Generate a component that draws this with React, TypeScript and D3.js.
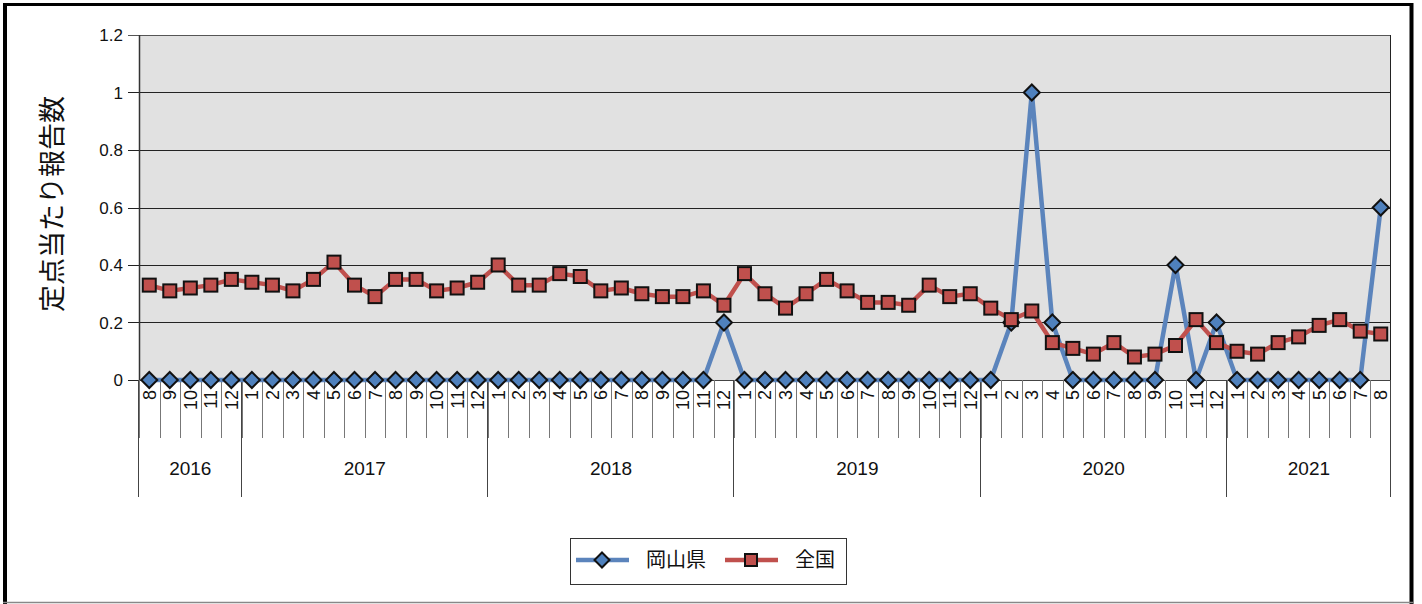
import * as d3 from "d3";

const years = ["2016", "2017", "2018", "2019", "2020", "2021"];
const monthsByYear = [
  [8, 9, 10, 11, 12],
  [1, 2, 3, 4, 5, 6, 7, 8, 9, 10, 11, 12],
  [1, 2, 3, 4, 5, 6, 7, 8, 9, 10, 11, 12],
  [1, 2, 3, 4, 5, 6, 7, 8, 9, 10, 11, 12],
  [1, 2, 3, 4, 5, 6, 7, 8, 9, 10, 11, 12],
  [1, 2, 3, 4, 5, 6, 7, 8],
];

// 岡山県
const okayama = [
  0, 0, 0, 0, 0,
  0, 0, 0, 0, 0, 0, 0, 0, 0, 0, 0, 0,
  0, 0, 0, 0, 0, 0, 0, 0, 0, 0, 0, 0.2,
  0, 0, 0, 0, 0, 0, 0, 0, 0, 0, 0, 0,
  0, 0.2, 1.0, 0.2, 0, 0, 0, 0, 0, 0.4, 0, 0.2,
  0, 0, 0, 0, 0, 0, 0, 0.6,
];

// 全国
const national = [
  0.33, 0.31, 0.32, 0.33, 0.35,
  0.34, 0.33, 0.31, 0.35, 0.41, 0.33, 0.29, 0.35, 0.35, 0.31, 0.32, 0.34,
  0.40, 0.33, 0.33, 0.37, 0.36, 0.31, 0.32, 0.30, 0.29, 0.29, 0.31, 0.26,
  0.37, 0.30, 0.25, 0.30, 0.35, 0.31, 0.27, 0.27, 0.26, 0.33, 0.29, 0.30,
  0.25, 0.21, 0.24, 0.13, 0.11, 0.09, 0.13, 0.08, 0.09, 0.12, 0.21, 0.13,
  0.10, 0.09, 0.13, 0.15, 0.19, 0.21, 0.17, 0.16,
];

const yTicks = [0, 0.2, 0.4, 0.6, 0.8, 1, 1.2];

const W = 1422;
const H = 604;
const left = 139;
const right = 1391;
const top = 35;
const bottom = 380;

const BLUE = "#5B84BC";
const BLUE_FILL = "#4F81BD";
const RED = "#C0504D";
const JP = "'Noto Sans CJK JP', 'Noto Sans', sans-serif";
const NUM = "'Liberation Sans', Arial, sans-serif";

export default function App() {
  const months = monthsByYear.flat();
  const idx = months.map((_, i) => i);

  const x = d3.scaleBand<number>().domain(idx).range([left, right]).padding(0);
  const bw = x.bandwidth();
  const cx = (i: number) => (x(i) as number) + bw / 2;
  const y = d3.scaleLinear().domain([0, 1.2]).range([bottom, top]);

  const line = d3
    .line<number>()
    .x((_, i) => cx(i))
    .y((d) => y(d));

  // where each year starts, as a month index
  const yearStarts: number[] = [];
  let acc = 0;
  monthsByYear.forEach((m) => {
    yearStarts.push(acc);
    acc += m.length;
  });

  const diamond = (s: number) => `M0,${-s}L${s},0L0,${s}L${-s},0Z`;

  return (
    <svg
      width={W}
      height={H}
      style={{ position: "absolute", left: 0, top: 0, display: "block", background: "#fff" }}
    >
      {/* outer frame */}
      <line x1={5} y1={3} x2={5} y2={604} stroke="#000" strokeWidth={4} />
      <line x1={3} y1={4.5} x2={1413} y2={4.5} stroke="#000" strokeWidth={3} />
      <line x1={1411.5} y1={3} x2={1411.5} y2={604} stroke="#000" strokeWidth={4} />
      <line x1={3} y1={602.5} x2={1413} y2={602.5} stroke="#888" strokeWidth={1.5} />

      {/* plot area */}
      <rect x={left} y={top} width={right - left} height={bottom - top} fill="#E1E1E1" />
      {yTicks.map((t) => (
        <g key={t}>
          <line
            x1={left - 11}
            x2={t === 0 ? left : right}
            y1={Math.round(y(t)) + 0.5}
            y2={Math.round(y(t)) + 0.5}
            stroke={t === 1.2 ? "#555" : "#222"}
            strokeWidth={1}
          />
          <text
            x={left - 16}
            y={y(t)}
            dy="0.36em"
            textAnchor="end"
            fontFamily={NUM}
            fontSize={17}
            fill="#111"
          >
            {t}
          </text>
        </g>
      ))}
      <line x1={right - 0.5} x2={right - 0.5} y1={top} y2={bottom} stroke="#222" />
      <line x1={left + 0.5} x2={left + 0.5} y1={top} y2={bottom} stroke="#333" strokeWidth={1.5} />

      {/* category axis */}
      <line x1={left} x2={right} y1={bottom + 0.5} y2={bottom + 0.5} stroke="#444" />
      {idx.map((i) => (
        <line
          key={"m" + i}
          x1={Math.round(x(i) as number) + 0.5}
          x2={Math.round(x(i) as number) + 0.5}
          y1={bottom}
          y2={438}
          stroke="#777"
        />
      ))}
      {[...yearStarts, months.length].map((s, k) => {
        const xx = s === months.length ? right : (x(s) as number);
        return (
          <line
            key={"y" + k}
            x1={Math.round(xx) - 0.5}
            x2={Math.round(xx) - 0.5}
            y1={bottom}
            y2={497}
            stroke="#444"
          />
        );
      })}
      {months.map((m, i) => (
        <text
          key={"ml" + i}
          transform={`translate(${cx(i)},${bottom + 10}) rotate(-90)`}
          textAnchor="end"
          dy="0.36em"
          fontFamily={NUM}
          fontSize={18}
          fill="#111"
        >
          {m}
        </text>
      ))}
      {years.map((yr, k) => {
        const s = yearStarts[k];
        const e = s + monthsByYear[k].length;
        const x0 = x(s) as number;
        const x1 = e >= months.length ? right : (x(e) as number);
        return (
          <text
            key={yr}
            x={(x0 + x1) / 2}
            y={475}
            textAnchor="middle"
            fontFamily={NUM}
            fontSize={19}
            fill="#111"
          >
            {yr}
          </text>
        );
      })}

      {/* y title */}
      <text
        transform={`translate(62,204) rotate(-90)`}
        textAnchor="middle"
        fontFamily={JP}
        fontSize={27}
        fill="#111"
      >
        定点当たり報告数
      </text>

      {/* series lines */}
      <path d={line(okayama) || ""} fill="none" stroke={BLUE} strokeWidth={4.5} strokeLinejoin="round" />
      <path d={line(national) || ""} fill="none" stroke={RED} strokeWidth={4.5} strokeLinejoin="round" />

      {/* markers */}
      {okayama.map((v, i) => (
        <path
          key={"d" + i}
          d={diamond(8)}
          transform={`translate(${cx(i)},${y(v)})`}
          fill={BLUE_FILL}
          stroke="#111"
          strokeWidth={2}
        />
      ))}
      {national.map((v, i) => (
        <rect
          key={"s" + i}
          x={cx(i) - 6.5}
          y={y(v) - 6.5}
          width={13}
          height={13}
          fill={RED}
          stroke="#111"
          strokeWidth={2}
        />
      ))}

      {/* legend */}
      <rect x={570.5} y={538.5} width={276} height={46} fill="#fff" stroke="#333" />
      <line x1={576} x2={629} y1={560} y2={560} stroke={BLUE} strokeWidth={4.5} />
      <path d={diamond(7.5)} transform="translate(602,560)" fill={BLUE_FILL} stroke="#111" strokeWidth={2} />
      <text x={646} y={560} dy="0.36em" fontFamily={JP} fontSize={20} fill="#111">
        岡山県
      </text>
      <line x1={725} x2={778} y1={560} y2={560} stroke={RED} strokeWidth={4.5} />
      <rect x={745} y={554} width={12} height={12} fill={RED} stroke="#111" strokeWidth={2} />
      <text x={795} y={560} dy="0.36em" fontFamily={JP} fontSize={20} fill="#111">
        全国
      </text>
    </svg>
  );
}
